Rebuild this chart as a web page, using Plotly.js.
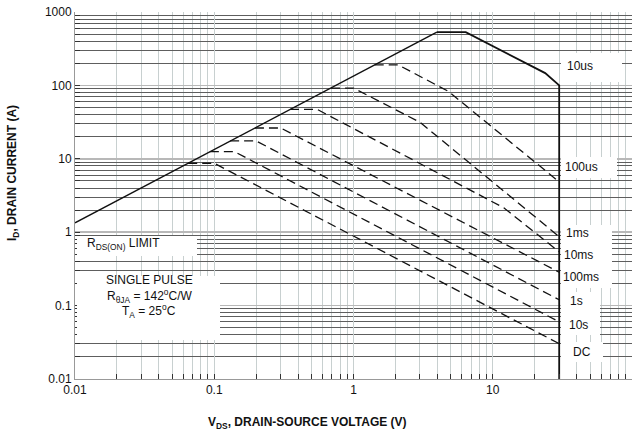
<!DOCTYPE html>
<html>
<head>
<meta charset="utf-8">
<script src="https://cdn.plot.ly/plotly-3.0.1.min.js"></script>
<style>html,body{margin:0;padding:0;background:#fff;}#chart{width:640px;height:436px;}</style>
</head>
<body>
<div id="chart"></div>
<script>
// ---- Data ----
const rdsV = [0.01, 3.97];
const rdsI = [1.34, 532];

const v10us = [3.97, 6.4, 23.8, 30, 30];
const i10us = [532, 532, 147, 100, 0.01];

const v100us = [1.42, 2.1, 4.8, 30];
const i100us = [190, 190, 83, 4.85];

const v1ms = [0.69, 1.0, 3.0, 30];
const i1ms = [92, 92, 31.5, 0.87];

const v10ms = [0.35, 0.55, 12, 30];
const i10ms = [47, 47, 2.15, 0.54];

const v100ms = [0.196, 0.3, 30];
const i100ms = [26.3, 26.3, 0.285];

const v1s = [0.13, 0.2, 30];
const i1s = [17.5, 17.5, 0.12];

const v10s = [0.093, 0.14, 30];
const i10s = [12.5, 12.5, 0.06];

const vDC = [0.065, 0.1, 30];
const iDC = [8.7, 8.7, 0.0303];

const xTickVals = [0.01, 0.1, 1, 10, 100];
const xTickText = ["0.01", "0.1", "1", "10", "100"];
const yTickVals = [0.01, 0.1, 1, 10, 100, 1000];
const yTickText = ["0.01", "0.1", "1", "10", "100", "1000"];

const curveLabels = ["10us", "100us", "1ms", "10ms", "100ms", "1s", "10s", "DC"];

// ---- Layout helpers (pixel -> paper) ----
const M = {l: 75, r: 8, t: 12, b: 57};
const PW = 640 - M.l - M.r, PH = 436 - M.t - M.b;
const px = p => (p - M.l) / PW;
const py = p => (436 - M.b - p) / PH;

const FONT = "Liberation Sans, Arial, sans-serif";
const INK = "#111";

function solid(x, y, w) {
  return {x: x, y: y, type: "scatter", mode: "lines", hoverinfo: "skip",
          line: {color: INK, width: w}, showlegend: false};
}
function dashed(x, y) {
  return {x: x, y: y, type: "scatter", mode: "lines", hoverinfo: "skip",
          line: {color: INK, width: 1.3, dash: "9px,5px"}, showlegend: false};
}

const traces = [
  solid(rdsV, rdsI, 1.4),
  solid(v10us, i10us, 1.8),
  dashed(v100us, i100us),
  dashed(v1ms, i1ms),
  dashed(v10ms, i10ms),
  dashed(v100ms, i100ms),
  dashed(v1s, i1s),
  dashed(v10s, i10s),
  dashed(vDC, iDC)
];

// white boxes behind the labels (pixel rectangles); they do not touch any curve
const boxesPx = [
  [561, 53, 622, 82],
  [561, 157, 617, 178],
  [561, 225, 612, 288],
  [561, 292, 600, 335],
  [561, 342, 603, 362],
  [77, 236, 197, 256],
  [77, 276, 220, 340]
];
const shapes = boxesPx.map(b => ({
  type: "rect", xref: "paper", yref: "paper", layer: "above",
  x0: px(b[0]), x1: px(b[2]), y0: py(b[3]), y1: py(b[1]),
  fillcolor: "#ffffff", line: {width: 0}
}));

const labelPos = [[580, 66], [581, 167], [577, 233], [578, 255], [581, 277], [576, 301], [578, 325], [582, 352]];
const annotations = curveLabels.map((t, k) => ({
  text: t, xref: "paper", yref: "paper", x: px(labelPos[k][0]), y: py(labelPos[k][1]),
  xanchor: "center", yanchor: "middle", showarrow: false,
  font: {family: FONT, size: 12, color: INK}
}));

function note(t, x, y, anchor, size, bold) {
  annotations.push({
    text: bold ? "<b>" + t + "</b>" : t, xref: "paper", yref: "paper",
    x: px(x), y: py(y), xanchor: anchor, yanchor: "middle", showarrow: false,
    font: {family: FONT, size: size, color: INK}
  });
}
note("R<sub>DS(ON)</sub> LIMIT", 85, 244, "left", 12);
note("SINGLE PULSE", 149, 280, "center", 12);
note("R<sub>θJA</sub> = 142<sup>o</sup>C/W", 149, 295.5, "center", 12);
note("T<sub>A</sub> = 25<sup>o</sup>C", 149, 311, "center", 12);
note("V<sub>DS</sub>, DRAIN-SOURCE VOLTAGE (V)", 307, 423, "center", 12, true);
annotations.push({
  text: "<b>I<sub>D</sub>, DRAIN CURRENT (A)</b>", xref: "paper", yref: "paper",
  x: px(13), y: py(173), xanchor: "center", yanchor: "middle", textangle: -90,
  showarrow: false, font: {family: FONT, size: 12, color: INK}
});

const layout = {
  width: 640, height: 436,
  margin: {l: M.l, r: M.r, t: M.t, b: M.b, pad: 0},
  paper_bgcolor: "#fff", plot_bgcolor: "#fff",
  font: {family: FONT, size: 12, color: INK},
  showlegend: false,
  xaxis: {
    type: "log", range: [-2, 2], tickmode: "array", tickvals: xTickVals, ticktext: xTickText,
    showgrid: true, gridcolor: "#c8d0d0", gridwidth: 1,
    ticks: "inside", ticklen: 5, tickcolor: "#333", tickwidth: 1,
    minor: {dtick: "D1", showgrid: true, gridcolor: "#c8d0d0", gridwidth: 1,
            ticks: "inside", ticklen: 5, tickcolor: "#333"},
    showline: true, linecolor: "#999", linewidth: 1, zeroline: false,
    tickfont: {family: FONT, size: 12, color: INK}
  },
  yaxis: {
    type: "log", range: [-2, 3], tickmode: "array", tickvals: yTickVals, ticktext: yTickText,
    showgrid: true, gridcolor: "#b8b8b8", gridwidth: 1.5,
    ticks: "inside", ticklen: 5, tickcolor: "#333", tickwidth: 1,
    minor: {dtick: "D1", showgrid: true, gridcolor: "#5e5e5e", gridwidth: 1,
            ticks: "inside", ticklen: 5, tickcolor: "#333"},
    showline: true, linecolor: "#999", linewidth: 1, zeroline: false,
    tickfont: {family: FONT, size: 12, color: INK}
  },
  shapes: shapes,
  annotations: annotations
};

Plotly.newPlot("chart", traces, layout, {staticPlot: true, displayModeBar: false});
</script>
</body>
</html>
